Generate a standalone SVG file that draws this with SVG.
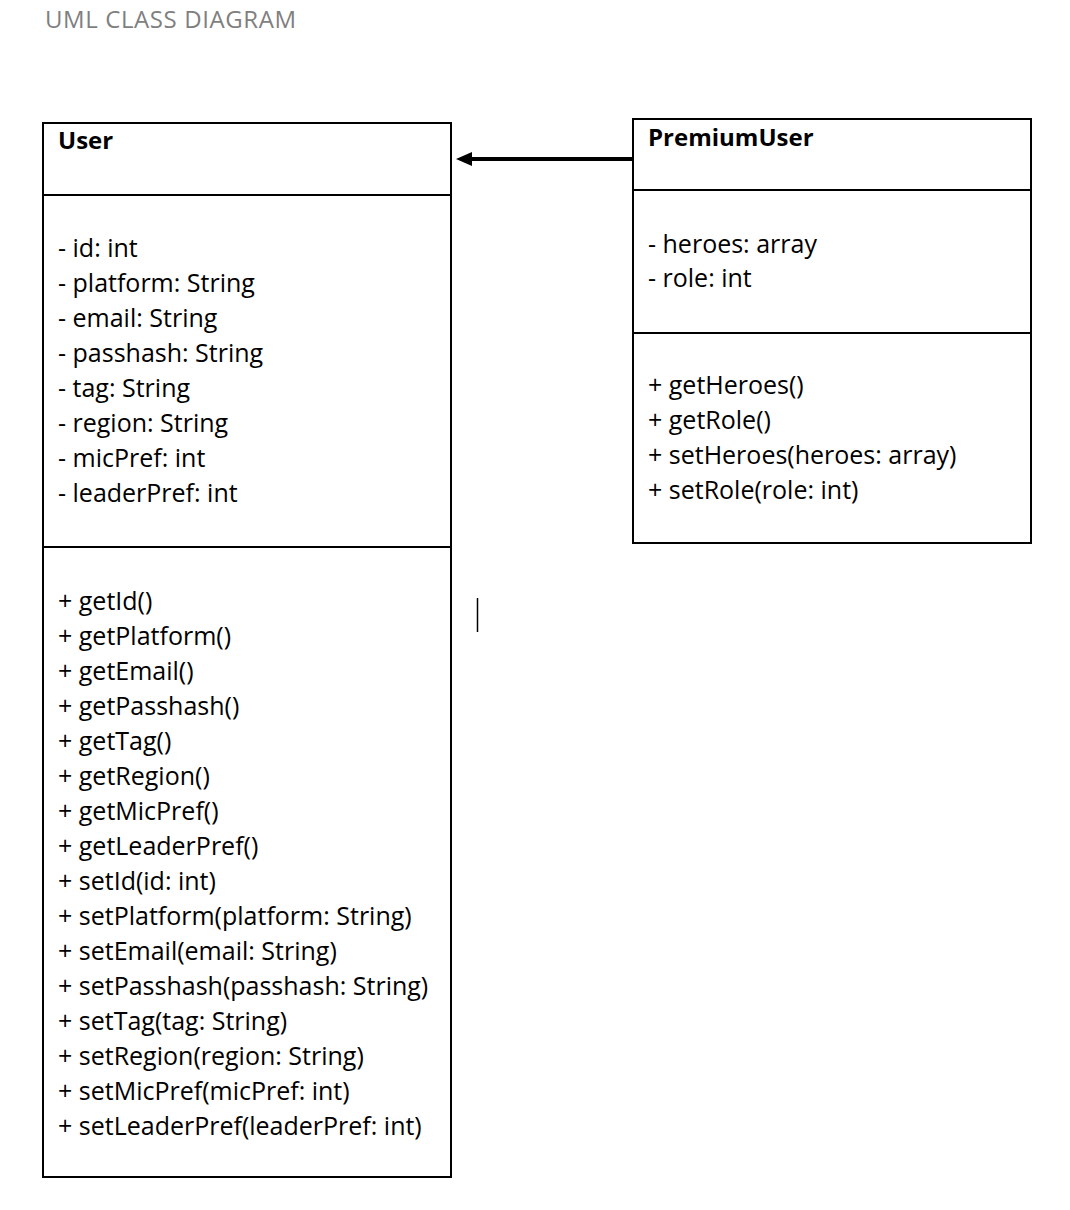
<svg xmlns="http://www.w3.org/2000/svg" width="1070" height="1210" viewBox="0 0 1070 1210">
<defs>
<style>
.box{fill:#fff;stroke:#000;stroke-width:2}
.div{stroke:#000;stroke-width:2}
.t{font-family:"Open Sans","Liberation Sans",sans-serif;font-size:25px;fill:#000}
.h{font-family:"Open Sans","Liberation Sans",sans-serif;font-size:24px;font-weight:bold;fill:#000}
.title{font-family:"Open Sans","Liberation Sans",sans-serif;font-size:24px;letter-spacing:0.6px;fill:#7f7f7f}
</style>
</defs>
<rect width="1070" height="1210" fill="#fff"/>
<text class="title" x="45" y="28">UML CLASS DIAGRAM</text>

<g id="User">
<rect class="box" x="43" y="123" width="408" height="1054"/>
<line class="div" x1="43" y1="195" x2="451" y2="195"/>
<line class="div" x1="43" y1="547" x2="451" y2="547"/>
<text class="h" x="58" y="149">User</text>
<text class="t" x="58" y="257">- id: int</text>
<text class="t" x="58" y="292">- platform: String</text>
<text class="t" x="58" y="327">- email: String</text>
<text class="t" x="58" y="362">- passhash: String</text>
<text class="t" x="58" y="397">- tag: String</text>
<text class="t" x="58" y="432">- region: String</text>
<text class="t" x="58" y="467">- micPref: int</text>
<text class="t" x="58" y="502">- leaderPref: int</text>
<text class="t" x="58" y="610">+ getId()</text>
<text class="t" x="58" y="645">+ getPlatform()</text>
<text class="t" x="58" y="680">+ getEmail()</text>
<text class="t" x="58" y="715">+ getPasshash()</text>
<text class="t" x="58" y="750">+ getTag()</text>
<text class="t" x="58" y="785">+ getRegion()</text>
<text class="t" x="58" y="820">+ getMicPref()</text>
<text class="t" x="58" y="855">+ getLeaderPref()</text>
<text class="t" x="58" y="890">+ setId(id: int)</text>
<text class="t" x="58" y="925">+ setPlatform(platform: String)</text>
<text class="t" x="58" y="960">+ setEmail(email: String)</text>
<text class="t" x="58" y="995">+ setPasshash(passhash: String)</text>
<text class="t" x="58" y="1030">+ setTag(tag: String)</text>
<text class="t" x="58" y="1065">+ setRegion(region: String)</text>
<text class="t" x="58" y="1100">+ setMicPref(micPref: int)</text>
<text class="t" x="58" y="1135">+ setLeaderPref(leaderPref: int)</text>
</g>

<g id="PremiumUser">
<rect class="box" x="633" y="119" width="398" height="424"/>
<line class="div" x1="633" y1="190" x2="1031" y2="190"/>
<line class="div" x1="633" y1="333" x2="1031" y2="333"/>
<text class="h" x="648" y="146">PremiumUser</text>
<text class="t" x="648" y="253">- heroes: array</text>
<text class="t" x="648" y="287">- role: int</text>
<text class="t" x="648" y="394">+ getHeroes()</text>
<text class="t" x="648" y="429">+ getRole()</text>
<text class="t" x="648" y="464">+ setHeroes(heroes: array)</text>
<text class="t" x="648" y="499">+ setRole(role: int)</text>
</g>

<g id="connectors">
<line x1="633" y1="159" x2="470" y2="159" stroke="#000" stroke-width="4"/>
<path d="M456,159 L472,152 L472,166 Z" fill="#000"/>
</g>

<line x1="477.5" y1="598" x2="477.5" y2="632" stroke="#000" stroke-width="1.5"/>
</svg>
